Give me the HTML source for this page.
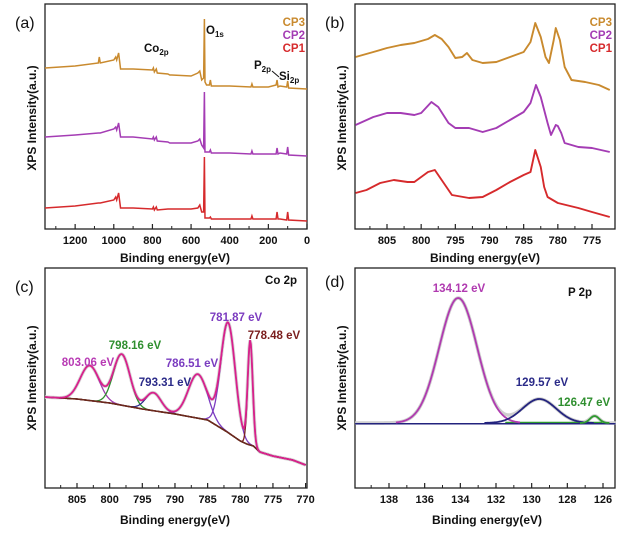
<!DOCTYPE html>
<html><head><meta charset="utf-8"><style>
html,body{margin:0;padding:0;background:#fff;}
svg{display:block;font-family:"Liberation Sans",Arial,sans-serif;}
.tk{font-size:11px;font-weight:bold;fill:#111;}
.ttl{font-size:12px;font-weight:bold;fill:#111;}
.pl{font-size:16px;fill:#111;}
.lb{font-size:11.5px;font-weight:bold;}
</style></head><body>
<svg id="fig" width="630" height="533" viewBox="0 0 630 533">
<rect width="630" height="533" fill="#fff"/>
<g id="pa"></g>
<g id="pb"></g>
<g id="pc"></g>
<g id="pd"></g>
</svg>
<script>
// ---- Panel (a) survey data ----
const surveyEnergy=[1356,1200,1080,1075,1070,1000,990,985,975,965,900,800,795,790,780,775,720,710,700,600,565,555,545,535,531,528,520,505,500,495,400,290,285,280,200,160,155,150,140,105,100,95,0];
const surveyCP3=[161,163,166,172,166,169,172,169,176,160,160,159,161,157,160,156,155,154,154,153,156,158,149,151,210,147,144,144,149,143,143,142,145,142,142,144,149,142,143,142,148,141,140];
const surveyCP2=[92,94,96,96,96,100,102,99,106,92,92,90,92,89,92,88,87,86,86,86,88,90,84,81,137,77,77,77,79,76,76,75,78,75,75,75,81,75,76,75,82,74,73];
const surveyCP1=[21,23,26,26,26,29,32,29,36,21,21,20,22,19,22,19,20,20,20,20,21,24,17,17,72,11,11,11,12,10,10,10,13,10,10,10,17,10,10,9,17,9,8];
const surveyTicks=[1200,1000,800,600,400,200,0];
// ---- Panel (b) Co 2p comparison ----
const bEnergyCP3=[809.6,807,805,803,801,799,798,797,796,795,794,793.3,792.5,791,789,787,785,784,783.3,782.5,781.8,781.3,780.6,780.3,779.7,779,778,776,774,772.4];
const bCP3=[172,177,181,184,186,190,194,190,182,171,172,176,169,166,167,172,177,187,206,192,172,166,189,201,189,162,149,147,144,139];
const bEnergyCP2=[809.6,807,805,803,801,800,798.5,797.5,796,795,793,791,789,787,785,784,783.2,782.5,781.5,781,780.3,780,779.5,779,777,775,772.4];
const bCP2=[104,112,116,116,114,116,127,122,106,101,101,97,101,109,117,126,144,132,106,94,104,103,96,86,82,81,77];
const bEnergyCP1=[809.6,808,806,804,802,801,799,798,797,795.5,793,791,789,787,785,784,783.3,782.5,782,781.5,780,777,775,772.4];
const bCP1=[36,39,46,49,47,47,57,59,49,34,31,32,39,47,54,57,79,62,42,32,26,21,17,12];
const bTicks=[805,800,795,790,785,780,775];
// ---- Panel (c) Co 2p fit ----
const cPeakCenters=[803.06,798.16,793.31,786.51,781.87,778.48];
const cPeakHeights=[35,51,18,44,110,104];
const cPeakFwhm=[3.4,3.0,2.8,3.4,2.6,0.9];
const cPeakLabels=["803.06 eV","798.16 eV","793.31 eV","786.51 eV","781.87 eV","778.48 eV"];
const cBgEnergy=[810,805,800,795,790,785,782,780,779,778,777,775,772,770];
const cBgValues=[91,89,85,79,74,68,56,47,44,42,36,32,28,23];
const cTicks=[805,800,795,790,785,780,775,770];
// ---- Panel (d) P 2p fit ----
const dPeakCenters=[134.12,129.57,126.47];
const dPeakHeights=[125,24,7];
const dPeakFwhm=[2.5,2.2,0.6];
const dPeakLabels=["134.12 eV","129.57 eV","126.47 eV"];
const dTicks=[138,136,134,132,130,128,126];

const NS="http://www.w3.org/2000/svg";
function mk(parent,tag,attrs,text){const e=document.createElementNS(NS,tag);for(const k in attrs)e.setAttribute(k,attrs[k]);if(text!==undefined)e.textContent=text;parent.appendChild(e);return e;}
function lin(d0,d1,r0,r1){return v=>r0+(v-d0)*(r1-r0)/(d1-d0);}
function pathOf(xs,ys,sx,sy){return xs.map((v,i)=>(i?'L':'M')+sx(v).toFixed(2)+','+sy(ys[i]).toFixed(2)).join('');}
function gauss(v,c,h,f){const s=f/2.3548;return h*Math.exp(-0.5*((v-c)/s)**2);}

function frame(g,L,T,R,B,ticks,sx,minorStep,titleX,titleY,ytX,ytY,label,lx,ly){
  const f=mk(g,'rect',{x:L,y:T,width:R-L,height:B-T,fill:'none',stroke:'#222','stroke-width':1.3});
  
  
  ticks.forEach(t=>{
    const x=sx(t);
    const tl=mk(g,'line',{x1:x,y1:B,x2:x,y2:B-5,stroke:'#222','stroke-width':1.2});
    
    
    const mx=sx(t+minorStep);
    if(mx>L+2&&mx<R-2){const ml=mk(g,'line',{x1:mx,y1:B,x2:mx,y2:B-3,stroke:'#222','stroke-width':1});
      
      }
    const tx=mk(g,'text',{x:x,y:B+15,'text-anchor':'middle',class:'tk'},String(t));
    
    
  });
  const xt=mk(g,'text',{x:titleX,y:titleY,'text-anchor':'middle',class:'ttl'},'Binding energy(eV)');
  
  
  const yt=mk(g,'text',{x:0,y:0,'text-anchor':'middle',class:'ttl',transform:`translate(${ytX},${ytY}) rotate(-90)`},'XPS Intensity(a.u.)');
  
  
  const pl=mk(g,'text',{x:lx,y:ly,class:'pl'},label);
  
  
}
function txt(g,x,y,s,color,name,anchor){const t=mk(g,'text',{x:x,y:y,class:'lb',fill:color,'text-anchor':anchor||'start'},s);
  
  return t;}

const ORANGE='#c98a2e',PURPLE='#a43cb4',RED='#d62a2c';
// Panel a
(function(){
  const g=document.getElementById('pa');
  const sx=lin(1356,0,45,307), sy=lin(0,226,229,3);
  frame(g,45,4,307,229,surveyTicks,sx,100,175,262,36,118,'(a)',15,28);
  [[surveyCP3,ORANGE,'cp3-survey-line'],[surveyCP2,PURPLE,'cp2-survey-line'],[surveyCP1,RED,'cp1-survey-line']].forEach(([d,c,n])=>{
    const p=mk(g,'path',{d:pathOf(surveyEnergy,d,sx,sy),fill:'none',stroke:c,'stroke-width':1.5});
    
    
  });
  txt(g,305,26,'CP3',ORANGE,'legend-cp3','end');
  txt(g,305,39,'CP2',PURPLE,'legend-cp2','end');
  txt(g,305,52,'CP1',RED,'legend-cp1','end');
  const co=mk(g,'text',{x:144,y:52,class:'lb',fill:'#111'});co.innerHTML='Co<tspan font-size="8" dy="3">2p</tspan>';
  
  
  const o=mk(g,'text',{x:206,y:34,class:'lb',fill:'#111'});o.innerHTML='O<tspan font-size="8" dy="3">1s</tspan>';
  
  
  const p2=mk(g,'text',{x:254,y:69,class:'lb',fill:'#111'});p2.innerHTML='P<tspan font-size="8" dy="3">2p</tspan>';
  
  
  const si=mk(g,'text',{x:279,y:80,class:'lb',fill:'#111'});si.innerHTML='Si<tspan font-size="8" dy="3">2p</tspan>';
  
  
  const ld=mk(g,'line',{x1:272,y1:71,x2:279,y2:77,stroke:'#111','stroke-width':1});
  
  
})();
// Panel b
(function(){
  const g=document.getElementById('pb');
  const sx=lin(805,775,387,592), sy=lin(0,226,229,3);
  frame(g,355,4,615,229,bTicks,sx,2.5,485,262,346,118,'(b)',325,28);
  [[bEnergyCP3,bCP3,ORANGE,'cp3-co2p-line'],[bEnergyCP2,bCP2,PURPLE,'cp2-co2p-line'],[bEnergyCP1,bCP1,RED,'cp1-co2p-line']].forEach(([e,d,c,n])=>{
    const p=mk(g,'path',{d:pathOf(e,d,sx,sy),fill:'none',stroke:c,'stroke-width':1.9,'stroke-linejoin':'round'});
    
    
  });
  txt(g,612,26,'CP3',ORANGE,'legend-cp3','end');
  txt(g,612,39,'CP2',PURPLE,'legend-cp2','end');
  txt(g,612,52,'CP1',RED,'legend-cp1','end');
})();
// Panel c
(function(){
  const g=document.getElementById('pc');
  const sx=lin(805,770,77,305.6), sy=lin(0,100,488,388);
  frame(g,45,268,307,488,cTicks,sx,2.5,175,524,36,378,'(c)',15,292);
  const N=300,E=[];for(let i=0;i<=N;i++)E.push(809.9-(809.9-770)*i/N);
  const bgAt=v=>{for(let i=0;i<cBgEnergy.length-1;i++){if(v<=cBgEnergy[i]&&v>=cBgEnergy[i+1]){const t=(cBgEnergy[i]-v)/(cBgEnergy[i]-cBgEnergy[i+1]);return cBgValues[i]+t*(cBgValues[i+1]-cBgValues[i]);}}return cBgValues[cBgValues.length-1];};
  const bg=E.map(bgAt);
  const env=E.map((v,i)=>bg[i]+cPeakCenters.reduce((s,c,k)=>s+gauss(v,c,cPeakHeights[k],cPeakFwhm[k]),0));
  const raw=mk(g,'path',{d:pathOf(E,env,sx,sy),fill:'none',stroke:'#d8d8d8','stroke-width':3.5});
  
  
  const compColors=['#a03cb0','#2f8f2f','#2a2a88','#7a3cc0','#7c3cc0','#7a1e1e'];
  cPeakCenters.forEach((c,k)=>{
    const y=E.map((v,i)=>bg[i]+gauss(v,c,cPeakHeights[k],cPeakFwhm[k]));
    const p=mk(g,'path',{d:pathOf(E,y,sx,sy),fill:'none',stroke:compColors[k],'stroke-width':1.3});
    
    
  });
  const b=mk(g,'path',{d:pathOf(E,bg,sx,sy),fill:'none',stroke:'#6b2a1a','stroke-width':1.6});
  
  
  const en=mk(g,'path',{d:pathOf(E,env,sx,sy),fill:'none',stroke:'#d8218c','stroke-width':1.8});
  
  
  const lp=[[88,366,'#b83ab4'],[135,349,'#2f8f2f'],[165,386,'#2a2a88'],[192,367,'#7a3cc0'],[236,321,'#7c3cc0'],[274,339,'#7a1e1e']];
  cPeakLabels.forEach((s,k)=>txt(g,lp[k][0],lp[k][1],s,lp[k][2],'peak-label-'+k,'middle'));
  txt(g,297,284,'Co 2p','#111','region-label','end');
})();
// Panel d
(function(){
  const g=document.getElementById('pd');
  const sx=lin(138,126,389,603), sy=lin(0,100,423,323);
  frame(g,355,268,615,488,dTicks,sx,1,487,524,346,378,'(d)',325,287);
  const N=300,E=[];for(let i=0;i<=N;i++)E.push(139.9-(139.9-125.3)*i/N);
  const env=E.map(v=>dPeakCenters.reduce((s,c,k)=>s+gauss(v,c,dPeakHeights[k],dPeakFwhm[k]),0));
  const raw=mk(g,'path',{d:pathOf(E,env,sx,sy),fill:'none',stroke:'#cfcfcf','stroke-width':3.5});
  
  
  const cols=['#b03ab0','#23237e','#2f9a2f'];
  const zero=E.map(()=>0);
  const gE=E.filter(v=>v<131.5&&v>126);
  const gl=mk(g,'path',{d:pathOf(gE,gE.map(()=>0),sx,v=>sy(v)-0.5),fill:'none',stroke:'#2f9a2f','stroke-width':1.5});
  
  
  const bl=mk(g,'path',{d:pathOf(E,zero,sx,v=>sy(v)+0.8),fill:'none',stroke:'#23237e','stroke-width':1.5});
  
  
  dPeakCenters.forEach((c,k)=>{
    const xs=E.filter(v=>Math.abs(v-c)<dPeakFwhm[k]*1.4);
    const ys=xs.map(v=>gauss(v,c,dPeakHeights[k],dPeakFwhm[k]));
    const p=mk(g,'path',{d:pathOf(xs,ys,sx,sy),fill:'none',stroke:cols[k],'stroke-width':1.8});
    
    
  });
  const lp=[[459,292,'#b03ab0'],[542,386,'#2a2a88'],[584,406,'#2f8f2f']];
  dPeakLabels.forEach((s,k)=>txt(g,lp[k][0],lp[k][1],s,lp[k][2],'peak-label-'+k,'middle'));
  txt(g,568,296,'P 2p','#111','region-label');
})();
</script>
</body></html>
